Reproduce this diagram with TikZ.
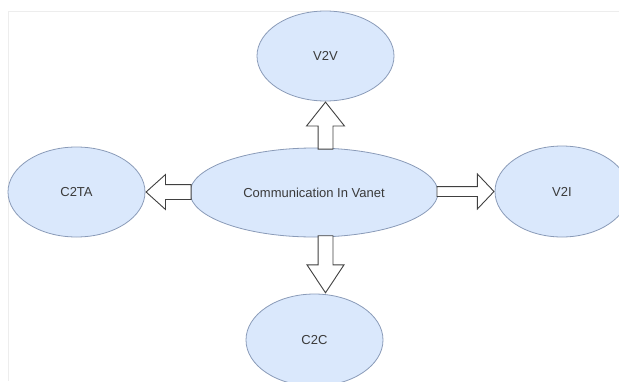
\documentclass[tikz,border=0pt]{standalone}
\usepackage{fontspec}
\setmainfont{Liberation Sans}
\usetikzlibrary{positioning,shapes.geometric,shapes.arrows}
\definecolor{nodefill}{HTML}{DAE8FC}
\definecolor{nodeline}{HTML}{8A9BB8}
\definecolor{textgray}{HTML}{3A3A3A}

\begin{document}
\begin{tikzpicture}[x=1pt,y=-1pt,
    comm/.style={ellipse,draw=nodeline,fill=nodefill,line width=0.8pt,minimum width=137pt,minimum height=90pt,inner sep=0pt,font=\fontsize{13}{15}\selectfont,text=textgray},
    blockarrow/.style={single arrow,draw=black!75,fill=white,line width=0.9pt,inner sep=0pt,single arrow head indent=0pt}
]
\useasboundingbox (0,0) rectangle (619,381);
\clip (0,0) rectangle (619,381);

% frame of the screenshot
\draw[black!7,line width=1pt] (8,381) -- (8,11) -- (619,11);

% nodes
\node[comm,minimum width=248pt,minimum height=89pt] (vanet) at (314,192.5) {Communication In Vanet};
\node[comm] (v2v)  at (325.5,56)  {V2V};
\node[comm,minimum width=134pt,minimum height=91pt] (v2i) at (562,191.5) {V2I};
\node[comm] (c2ta) at (76.5,192)  {C2TA};
\node[comm,minimum height=92pt] (c2c)  at (314.5,340) {C2C};

% block arrows out of the centre (shaft = 2 x inner sep across the arrow)
\node[blockarrow,shape border rotate=90,anchor=tip,minimum height=47pt,inner xsep=7pt,
      single arrow head extend=11.5pt,single arrow tip angle=77] (up) at (v2v.south) {};
\node[blockarrow,shape border rotate=270,anchor=tip,minimum height=57pt,inner xsep=7pt,
      single arrow head extend=11pt,single arrow tip angle=67] (down) at (v2v.south |- c2c.north) {};
\node[blockarrow,shape border rotate=0,anchor=tip,minimum height=57pt,inner ysep=4.5pt,
      single arrow head extend=12.5pt,single arrow tip angle=93] (right) at (v2i.west) {};
\node[blockarrow,shape border rotate=180,anchor=tip,minimum height=45pt,inner ysep=7pt,
      single arrow head extend=10pt,single arrow tip angle=84] (left) at (c2ta.east) {};

\end{tikzpicture}
\end{document}
